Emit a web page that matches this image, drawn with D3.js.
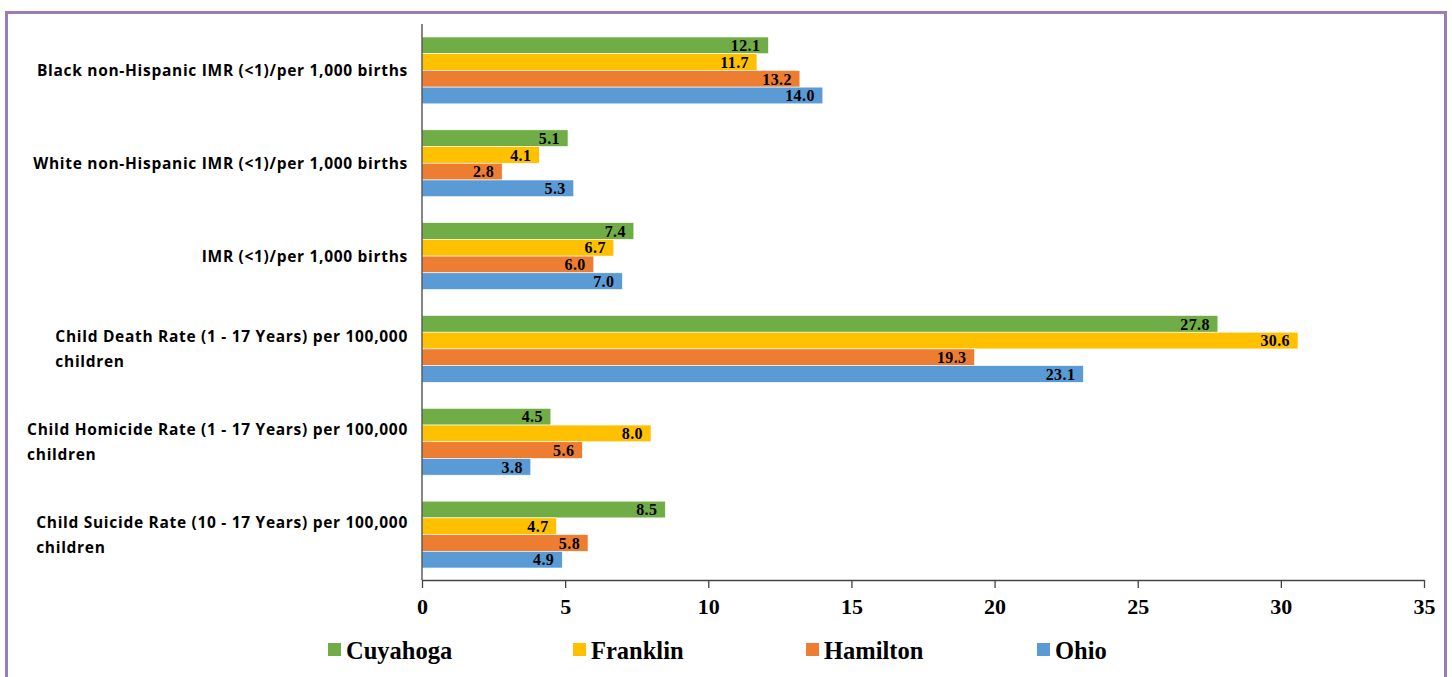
<!DOCTYPE html>
<html>
<head>
<meta charset="utf-8">
<script src="https://cdn.jsdelivr.net/npm/d3@7"></script>
<style>
  body { margin: 0; background: #fff; }
</style>
</head>
<body>
<svg id="chart" width="1452" height="677"></svg>
<script>
// categories, top to bottom
var categories = [
    ["Black non-Hispanic IMR (<1)/per 1,000 births"],
    ["White non-Hispanic IMR (<1)/per 1,000 births"],
    ["IMR (<1)/per 1,000 births"],
    ["Child Death Rate (1 - 17 Years) per 100,000", "children"],
    ["Child Homicide Rate (1 - 17 Years) per 100,000", "children"],
    ["Child Suicide Rate (10 - 17 Years) per 100,000", "children"]
];
var seriesNames = ["Cuyahoga", "Franklin", "Hamilton", "Ohio"];
var cuyahoga = [12.1, 5.1, 7.4, 27.8, 4.5, 8.5];
var franklin = [11.7, 4.1, 6.7, 30.6, 8.0, 4.7];
var hamilton = [13.2, 2.8, 6.0, 19.3, 5.6, 5.8];
var ohio = [14.0, 5.3, 7.0, 23.1, 3.8, 4.9];
var xTicks = [0, 5, 10, 15, 20, 25, 30, 35];

var colors = ["#70AD47", "#FFC000", "#ED7D31", "#5B9BD5"];
var seriesValues = [cuyahoga, franklin, hamilton, ohio];

var svg = d3.select("#chart");

// purple frame
svg.append("rect")
    .attr("x", 6.5).attr("y", 12.5)
    .attr("width", 1439).attr("height", 700)
    .attr("fill", "none")
    .attr("stroke", "#9B7CB6")
    .attr("stroke-width", 3);

var xScale = d3.scaleLinear().domain([0, 35]).range([422, 1424]);
var yScale = d3.scaleBand()
    .domain(d3.range(categories.length))
    .range([24, 581])
    .paddingInner(0.28)
    .paddingOuter(0.14);
var inner = d3.scaleBand()
    .domain(d3.range(seriesNames.length))
    .range([0, yScale.bandwidth()]);

var groups = svg.selectAll("g.cat")
    .data(categories)
    .enter()
    .append("g")
    .attr("class", "cat")
    .attr("transform", function (d, i) { return "translate(0," + yScale(i) + ")"; });

seriesValues.forEach(function (vals, s) {
    groups.append("rect")
        .attr("x", xScale(0))
        .attr("y", inner(s))
        .attr("width", function (d, i) { return xScale(vals[i]) - xScale(0); })
        .attr("height", inner.bandwidth())
        .attr("fill", colors[s])
        .attr("stroke", "#fff")
        .attr("stroke-width", 0.6);

    groups.append("text")
        .attr("x", function (d, i) { return xScale(vals[i]) - 8; })
        .attr("y", inner(s) + inner.bandwidth() / 2)
        .attr("dy", "0.36em")
        .attr("text-anchor", "end")
        .style("font-family", "'Liberation Serif', 'Times New Roman', serif")
        .style("font-weight", "bold")
        .style("font-size", "16px")
        .style("letter-spacing", "0.4px")
        .attr("fill", "#000")
        .text(function (d, i) { return vals[i].toFixed(1); });
});

// category labels: block right aligned, lines left aligned
groups.each(function (lines) {
    var g = d3.select(this);
    var cy = yScale.bandwidth() / 2;
    var t = g.append("text")
        .style("font-family", "'Open Sans', 'Liberation Sans', sans-serif")
        .style("font-weight", "bold")
        .style("font-size", "15.5px")
        .style("letter-spacing", "0.7px")
        .attr("fill", "#000");
    var first = t.append("tspan").text(lines[0]);
    var w = first.node().getComputedTextLength();
    var x0 = 408 - w;
    var top = cy - (lines.length - 1) * 12.5;
    lines.forEach(function (ln, k) {
        var sp = k === 0 ? first : t.append("tspan").text(ln);
        sp.attr("x", x0).attr("y", top + k * 25).attr("dy", "0.36em");
    });
});

// x axis
var xAxis = d3.axisBottom(xScale)
    .tickValues(xTicks)
    .tickSize(8)
    .tickSizeOuter(0)
    .tickPadding(10);
var ax = svg.append("g")
    .attr("transform", "translate(0,580)")
    .call(xAxis);
ax.select(".domain").attr("stroke", "#444").attr("stroke-width", 1.3);
ax.selectAll(".tick line").attr("stroke", "#444").attr("stroke-width", 1.3);
ax.selectAll(".tick text")
    .style("font-family", "'Liberation Serif', 'Times New Roman', serif")
    .style("font-weight", "bold")
    .style("font-size", "22px")
    .attr("fill", "#000");

// y axis line
svg.append("line")
    .attr("x1", xScale(0)).attr("x2", xScale(0))
    .attr("y1", 24).attr("y2", 580)
    .attr("stroke", "#444")
    .attr("stroke-width", 1.3);

// legend
var legendX = [328, 573, 806, 1037];
var legend = svg.selectAll("g.legend")
    .data(seriesNames)
    .enter()
    .append("g")
    .attr("class", "legend")
    .attr("transform", function (d, i) { return "translate(" + legendX[i] + ",650)"; });
legend.append("rect")
    .attr("x", 0).attr("y", -7)
    .attr("width", 13).attr("height", 13)
    .attr("fill", function (d, i) { return colors[i]; });
legend.append("text")
    .attr("x", 18)
    .attr("y", 0)
    .attr("dy", "0.35em")
    .style("font-family", "'Liberation Serif', 'Times New Roman', serif")
    .style("font-weight", "bold")
    .style("font-size", "24.5px")
    .attr("fill", "#000")
    .text(function (d) { return d; });
</script>
</body>
</html>
